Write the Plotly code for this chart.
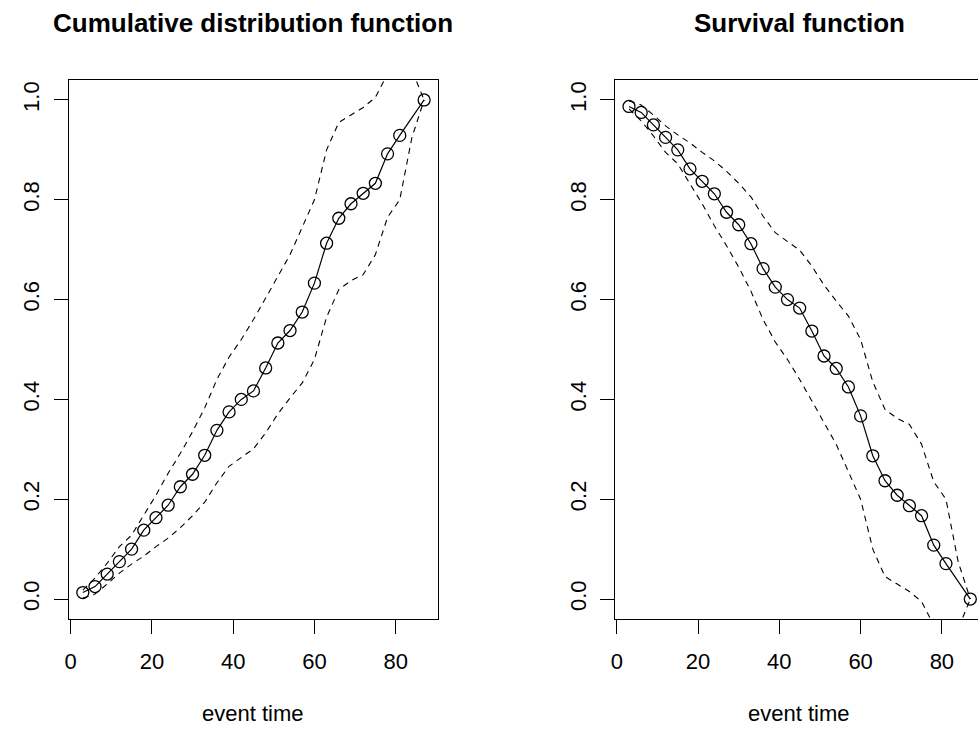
import plotly.graph_objects as go

# ---- data ----
event_time = [3, 6, 9, 12, 15, 18, 21, 24, 27, 30, 33, 36, 39, 42, 45, 48, 51, 54, 57,
              60, 63, 66, 69, 72, 75, 78, 81, 87]
cdf = [0.013, 0.025, 0.05, 0.075, 0.1, 0.138, 0.163, 0.188, 0.225, 0.25, 0.288, 0.338,
       0.375, 0.4, 0.417, 0.463, 0.513, 0.538, 0.575, 0.633, 0.713, 0.763, 0.792, 0.813,
       0.833, 0.892, 0.929, 1.0]
survival = [0.987, 0.975, 0.95, 0.925, 0.9, 0.862, 0.837, 0.812, 0.775, 0.75, 0.712, 0.662,
            0.625, 0.6, 0.583, 0.537, 0.487, 0.462, 0.425, 0.367, 0.287, 0.237, 0.208, 0.187,
            0.167, 0.108, 0.071, 0.0]

ci_time = [3, 6, 9, 12, 15, 18, 21, 24, 27, 30, 33, 36, 39, 42, 45, 48, 51, 54, 57,
           60, 63, 66, 69, 72, 75, 78, 81, 84, 87]
cdf_lower = [0.002, 0.01, 0.03, 0.052, 0.07, 0.086, 0.105, 0.122, 0.143, 0.167, 0.194, 0.233,
             0.266, 0.283, 0.301, 0.333, 0.371, 0.403, 0.433, 0.48, 0.565, 0.62, 0.638, 0.65,
             0.69, 0.765, 0.80, 0.925, 1.0]
cdf_upper = [0.018, 0.042, 0.072, 0.105, 0.128, 0.168, 0.208, 0.252, 0.292, 0.335, 0.383, 0.44,
             0.485, 0.52, 0.56, 0.603, 0.648, 0.69, 0.745, 0.80, 0.90, 0.955, 0.97, 0.985,
             1.005, 1.055, 1.10, 1.06, 1.0]
surv_upper = [0.998, 0.99, 0.97, 0.948, 0.93, 0.914, 0.895, 0.878, 0.857, 0.833, 0.806, 0.767,
              0.734, 0.717, 0.699, 0.667, 0.629, 0.597, 0.567, 0.52, 0.435, 0.38, 0.362, 0.35,
              0.31, 0.235, 0.20, 0.075, 0.0]
surv_lower = [0.982, 0.958, 0.928, 0.895, 0.872, 0.832, 0.792, 0.748, 0.708, 0.665, 0.617, 0.56,
              0.515, 0.48, 0.44, 0.397, 0.352, 0.31, 0.255, 0.20, 0.10, 0.045, 0.03, 0.015,
              -0.005, -0.055, -0.10, -0.06, 0.0]

x_ticks = [0, 20, 40, 60, 80]
y_ticks = [0.0, 0.2, 0.4, 0.6, 0.8, 1.0]
titles = ["Cumulative distribution function", "Survival function"]
x_label = "event time"

# ---- figure ----
W, H = 978, 731
FONT = "Liberation Sans, Arial, Helvetica, sans-serif"

fig = go.Figure()

dash = "6px,5px"
panels = [
    ("x", "y", cdf, cdf_lower, cdf_upper),
    ("x2", "y2", survival, surv_lower, surv_upper),
]
for xa, ya, est, lo, hi in panels:
    for ci in (lo, hi):
        fig.add_trace(go.Scatter(x=ci_time, y=ci, mode="lines", xaxis=xa, yaxis=ya,
                                 line=dict(color="black", width=1.1, dash=dash),
                                 hoverinfo="skip", showlegend=False))
    fig.add_trace(go.Scatter(x=event_time, y=est, mode="lines+markers", xaxis=xa, yaxis=ya,
                             line=dict(color="black", width=1.2),
                             marker=dict(symbol="circle-open", size=12, color="black",
                                         line=dict(width=1.3, color="black")),
                             showlegend=False))

top_px, bot_px = 80, 619
ydom = [1 - bot_px / H, 1 - top_px / H]
left_dom = [64.5 / W, 435 / W]
right_dom = [613.5 / W, 1.0]

axis_common = dict(showgrid=False, zeroline=False, showline=True, linecolor="black",
                   linewidth=1, ticks="outside", ticklen=14, tickwidth=1, tickcolor="black",
                   tickfont=dict(family=FONT, size=22, color="black"))

xr_left = [-0.36, 90.36]
px_per_unit = (435 - 64.5) / (xr_left[1] - xr_left[0])
xr_right = [-0.36, -0.36 + (W - 613.5) / px_per_unit]

fig.update_layout(
    width=W, height=H, margin=dict(l=0, r=0, t=0, b=0),
    paper_bgcolor="white", plot_bgcolor="white", showlegend=False,
    xaxis=dict(domain=left_dom, range=xr_left, tickvals=x_ticks, mirror=True,
               anchor="y", ticklabelstandoff=9, **axis_common),
    yaxis=dict(domain=ydom, range=[-0.04, 1.04], tickvals=y_ticks, tickformat=".1f",
               mirror=True, anchor="x", tickangle=-90, ticklabelstandoff=6, **axis_common),
    xaxis2=dict(domain=right_dom, range=xr_right, tickvals=x_ticks, mirror=True,
                anchor="y2", ticklabelstandoff=9, **axis_common),
    yaxis2=dict(domain=ydom, range=[-0.04, 1.04], tickvals=y_ticks, tickformat=".1f",
                mirror=False, anchor="x2", tickangle=-90, ticklabelstandoff=6, **axis_common),
)

centers = [(64.5 + 435) / 2, (613.5 + 983) / 2]
for cx, t in zip(centers, titles):
    fig.add_annotation(text="<b>" + t + "</b>", x=cx / W, y=1 - 23 / H, xref="paper",
                       yref="paper", xanchor="center", yanchor="middle", showarrow=False,
                       font=dict(family=FONT, size=26, color="black"))
    fig.add_annotation(text=x_label, x=cx / W, y=1 - 713 / H, xref="paper", yref="paper",
                       xanchor="center", yanchor="middle", showarrow=False,
                       font=dict(family=FONT, size=22, color="black"))

fig.write_html("out.html")
